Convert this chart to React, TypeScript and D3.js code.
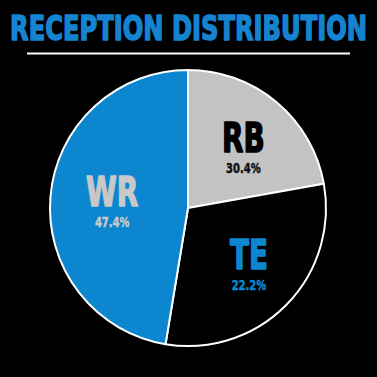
import React, { useEffect, useRef, useState } from "react";
import * as d3 from "d3";

const categories = ["RB", "TE", "WR"];
// slice shares as drawn in the picture (measured from the arc boundaries)
const sliceShares = [22.2, 30.4, 47.4];
// percentage labels as printed in the picture
const pctLabels = ["30.4%", "22.2%", "47.4%"];
const title = "RECEPTION DISTRIBUTION";

const W = 377;
const H = 377;
const BLUE = "#0c86cf";
const GREY = "#c3c3c3";

const sliceFill: Record<string, string> = { RB: GREY, TE: "#000000", WR: BLUE };
const nameFill: Record<string, string> = { RB: "#000000", TE: BLUE, WR: "#c8c8c8" };
const pctFill: Record<string, string> = { RB: "#111111", TE: BLUE, WR: "#c8c8c8" };

const FONT = "'DejaVu Sans', sans-serif";

export default function App() {
  const titleRef = useRef<SVGTextElement>(null);
  const [titleScale, setTitleScale] = useState(0.676);
  useEffect(() => {
    if (titleRef.current) {
      const w = titleRef.current.getComputedTextLength();
      if (w > 0) setTitleScale(357 / w);
    }
  }, []);

  const cx = 188;
  const cy = 208;
  const r = 138;
  const data = categories.map((c, i) => ({ cat: c, value: sliceShares[i], pct: pctLabels[i] }));
  const pie = d3.pie<any>().sort(null).value((d: any) => d.value);
  const arcs = pie(data);
  const arc = d3.arc<any>().innerRadius(0).outerRadius(r);
  const labelArc = d3.arc<any>().innerRadius(r * 0.58).outerRadius(r * 0.58);

  return (
    <svg
      width={W}
      height={H}
      style={{ position: "fixed", left: 0, top: 0, background: "#000" }}
    >
      <rect x={0} y={0} width={W} height={H} fill="#000" />
      <g transform={`translate(188.5,40) scale(${titleScale},1)`}>
        <text
          ref={titleRef}
          x={0}
          y={0}
          textAnchor="middle"
          fontFamily={FONT}
          fontWeight="bold"
          fontSize={33}
          fill="#1583d0"
          stroke="#1583d0"
          strokeWidth={1.6}
          strokeLinejoin="round"
        >
          {title}
        </text>
      </g>
      <line x1={27} x2={350} y1={53.5} y2={53.5} stroke="#fff" strokeWidth={2.2} />
      <g transform={`translate(${cx},${cy})`}>
        {arcs.map((a: any) => (
          <path
            key={a.data.cat}
            d={arc(a) as string}
            fill={sliceFill[a.data.cat]}
            stroke="#fff"
            strokeWidth={2}
            strokeLinejoin="round"
          />
        ))}
        {arcs.map((a: any) => {
          const [lx, ly] = labelArc.centroid(a);
          return (
            <g key={"l" + a.data.cat} transform={`translate(${lx + 4},${ly})`}>
              <text
                transform="scale(0.68,1)"
                y={5}
                textAnchor="middle"
                fontFamily={FONT}
                fontWeight="bold"
                fontSize={41}
                fill={nameFill[a.data.cat]}
                stroke={nameFill[a.data.cat]}
                strokeWidth={1.6}
                strokeLinejoin="round"
              >
                {a.data.cat}
              </text>
              <text
                transform="scale(0.74,1)"
                y={26}
                textAnchor="middle"
                fontFamily={FONT}
                fontWeight="bold"
                fontSize={13.5}
                fill={pctFill[a.data.cat]}
                stroke={pctFill[a.data.cat]}
                strokeWidth={0.5}
              >
                {a.data.pct}
              </text>
            </g>
          );
        })}
      </g>
    </svg>
  );
}
